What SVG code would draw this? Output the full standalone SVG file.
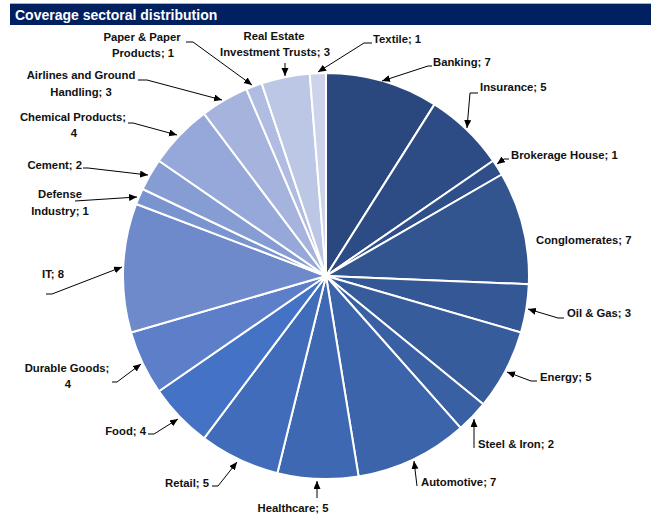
<svg xmlns="http://www.w3.org/2000/svg" width="659" height="522" viewBox="0 0 659 522">
<style>
.t{font-family:"Liberation Sans",Arial,sans-serif;font-weight:bold;font-size:11.3px;fill:#111}
.m{text-anchor:middle}.e{text-anchor:end}
.s{stroke:#fff;stroke-width:2;stroke-linejoin:round}
.ld{fill:none;stroke:#000;stroke-width:1;marker-end:url(#ah)}
</style>
<defs>
<marker id="ah" markerUnits="userSpaceOnUse" markerWidth="9" markerHeight="8" refX="8" refY="3.5" orient="auto"><path d="M0,0 L8,3.5 L0,7 z" fill="#000"/></marker>
</defs>
<rect width="659" height="522" fill="#fff"/>
<g id="title">
<line x1="10" y1="3.5" x2="651" y2="3.5" stroke="#9FB3D8" stroke-width="1"/>
<rect x="10" y="4" width="641" height="21" fill="#002060"/>
<text x="15" y="20" style="font-family:'Liberation Sans',Arial,sans-serif;font-weight:bold;font-size:14px;fill:#fff">Coverage sectoral distribution</text>
</g>
<g id="pie">
<path id="s-banking" class="s" fill="#2A477E" d="M326,276 L326,73 A203,203 0 0 1 434.5,104.4 Z"/>
<path id="s-insurance" class="s" fill="#2D4C86" d="M326,276 L434.5,104.4 A203,203 0 0 1 493.1,160.7 Z"/>
<path id="s-brokerage" class="s" fill="#2F4F8B" d="M326,276 L493.1,160.7 A203,203 0 0 1 501.8,174.5 Z"/>
<path id="s-conglomerates" class="s" fill="#32548F" d="M326,276 L501.8,174.5 A203,203 0 0 1 528.8,284.2 Z"/>
<path id="s-oilgas" class="s" fill="#345896" d="M326,276 L528.8,284.2 A203,203 0 0 1 521,332.5 Z"/>
<path id="s-energy" class="s" fill="#375C9C" d="M326,276 L521,332.5 A203,203 0 0 1 483.3,404.3 Z"/>
<path id="s-steel" class="s" fill="#3960A3" d="M326,276 L483.3,404.3 A203,203 0 0 1 460.6,427.9 Z"/>
<path id="s-automotive" class="s" fill="#3C64AA" d="M326,276 L460.6,427.9 A203,203 0 0 1 358.6,476.4 Z"/>
<path id="s-healthcare" class="s" fill="#3E68B2" d="M326,276 L358.6,476.4 A203,203 0 0 1 277.4,473.1 Z"/>
<path id="s-retail" class="s" fill="#416CBA" d="M326,276 L277.4,473.1 A203,203 0 0 1 204,438.3 Z"/>
<path id="s-food" class="s" fill="#4472C4" d="M326,276 L204,438.3 A203,203 0 0 1 158.9,391.3 Z"/>
<path id="s-durable" class="s" fill="#5D7EC8" d="M326,276 L158.9,391.3 A203,203 0 0 1 131,332.5 Z"/>
<path id="s-it" class="s" fill="#6E8ACB" d="M326,276 L131,332.5 A203,203 0 0 1 136.2,204 Z"/>
<path id="s-defense" class="s" fill="#7A94D0" d="M326,276 L136.2,204 A203,203 0 0 1 142.6,189 Z"/>
<path id="s-cement" class="s" fill="#869DD4" d="M326,276 L142.6,189 A203,203 0 0 1 158.9,160.7 Z"/>
<path id="s-chemical" class="s" fill="#96A8D9" d="M326,276 L158.9,160.7 A203,203 0 0 1 204,113.7 Z"/>
<path id="s-airlines" class="s" fill="#A5B3DD" d="M326,276 L204,113.7 A203,203 0 0 1 246.4,89.2 Z"/>
<path id="s-paper" class="s" fill="#B0BCE1" d="M326,276 L246.4,89.2 A203,203 0 0 1 261.7,83.4 Z"/>
<path id="s-reit" class="s" fill="#BCC6E5" d="M326,276 L261.7,83.4 A203,203 0 0 1 309.7,73.7 Z"/>
<path id="s-textile" class="s" fill="#CCD3EA" d="M326,276 L309.7,73.7 A203,203 0 0 1 326,73 Z"/>
</g>
<g id="connectors">
<polyline class="ld" points="186,42 193,42 252,85"/>
<polyline class="ld" points="285,63 285,76"/>
<polyline class="ld" points="372,43 364,43 318,72"/>
<polyline class="ld" points="432,66 428,66 382,81"/>
<polyline class="ld" points="478,93 470,93 467,128"/>
<polyline class="ld" points="509,159 504,159 497,164"/>
<polyline class="ld" points="564,318 558,318 528,309"/>
<polyline class="ld" points="537,381 531,381 507,372"/>
<polyline class="ld" points="474,448 474,419"/>
<polyline class="ld" points="417,486 414,461"/>
<polyline class="ld" points="317,498 317,481"/>
<polyline class="ld" points="212,486 218,486 237,462"/>
<polyline class="ld" points="148,434 154,434 178,419"/>
<polyline class="ld" points="112,382 117,382 141,364"/>
<polyline class="ld" points="46,294 52,294 122,267"/>
<polyline class="ld" points="75,201 137,197"/>
<polyline class="ld" points="83,168 88,168 148,175"/>
<polyline class="ld" points="128,123 133,123 177,135"/>
<polyline class="ld" points="138,80 147,80 222,100"/>
</g>
<g id="labels">
<g id="l-paper"><text class="t m" x="142" y="41">Paper &amp; Paper</text><text class="t m" x="143" y="57">Products; 1</text></g>
<g id="l-reit"><text class="t m" x="274" y="40">Real Estate</text><text class="t m" x="275" y="56">Investment Trusts; 3</text></g>
<g id="l-textile"><text class="t" x="373" y="43">Textile; 1</text></g>
<g id="l-banking"><text class="t" x="433" y="66">Banking; 7</text></g>
<g id="l-insurance"><text class="t" x="480" y="91">Insurance; 5</text></g>
<g id="l-brokerage"><text class="t" x="511" y="159">Brokerage House; 1</text></g>
<g id="l-conglomerates"><text class="t" x="536" y="244">Conglomerates; 7</text></g>
<g id="l-oilgas"><text class="t" x="567" y="317">Oil &amp; Gas; 3</text></g>
<g id="l-energy"><text class="t" x="540" y="381">Energy; 5</text></g>
<g id="l-steel"><text class="t" x="478" y="448">Steel &amp; Iron; 2</text></g>
<g id="l-automotive"><text class="t" x="421" y="486">Automotive; 7</text></g>
<g id="l-healthcare"><text class="t m" x="293" y="512">Healthcare; 5</text></g>
<g id="l-retail"><text class="t e" x="209" y="487">Retail; 5</text></g>
<g id="l-food"><text class="t e" x="146" y="435">Food; 4</text></g>
<g id="l-durable"><text class="t m" x="67" y="372">Durable Goods;</text><text class="t m" x="68" y="388">4</text></g>
<g id="l-it"><text class="t m" x="53" y="278">IT; 8</text></g>
<g id="l-defense"><text class="t m" x="60" y="198">Defense</text><text class="t m" x="60" y="215">Industry; 1</text></g>
<g id="l-cement"><text class="t e" x="82" y="169">Cement; 2</text></g>
<g id="l-chemical"><text class="t m" x="73" y="121">Chemical Products;</text><text class="t m" x="74" y="137">4</text></g>
<g id="l-airlines"><text class="t m" x="81" y="79">Airlines and Ground</text><text class="t m" x="81" y="96">Handling; 3</text></g>
</g>
</svg>
